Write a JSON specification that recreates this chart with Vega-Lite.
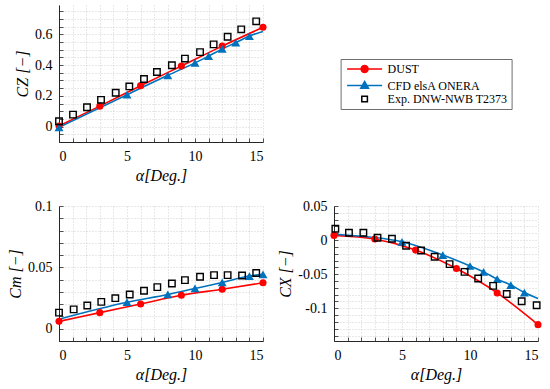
{
  "$schema": "https://vega.github.io/schema/vega-lite/v6.json",
  "padding": {"left": 7, "top": 5, "right": 5, "bottom": 5},
  "background": "white",
  "datasets": {
    "curves": [
      {"coef": "CZ", "series": "DUST", "alpha": 0, "value": 0.004},
      {"coef": "CZ", "series": "DUST", "alpha": 3, "value": 0.133},
      {"coef": "CZ", "series": "DUST", "alpha": 6, "value": 0.266},
      {"coef": "CZ", "series": "DUST", "alpha": 9, "value": 0.394},
      {"coef": "CZ", "series": "DUST", "alpha": 12, "value": 0.523},
      {"coef": "CZ", "series": "DUST", "alpha": 15, "value": 0.645},
      {"coef": "CZ", "series": "CFD elsA ONERA", "alpha": 0, "value": -0.005},
      {"coef": "CZ", "series": "CFD elsA ONERA", "alpha": 5, "value": 0.207},
      {"coef": "CZ", "series": "CFD elsA ONERA", "alpha": 8, "value": 0.333},
      {"coef": "CZ", "series": "CFD elsA ONERA", "alpha": 10, "value": 0.414},
      {"coef": "CZ", "series": "CFD elsA ONERA", "alpha": 11, "value": 0.458},
      {"coef": "CZ", "series": "CFD elsA ONERA", "alpha": 12, "value": 0.505},
      {"coef": "CZ", "series": "CFD elsA ONERA", "alpha": 13, "value": 0.545},
      {"coef": "CZ", "series": "CFD elsA ONERA", "alpha": 14, "value": 0.588},
      {"coef": "CZ", "series": "CFD elsA ONERA", "alpha": 15, "value": 0.618},
      {"coef": "Cm", "series": "DUST", "alpha": 0, "value": 0.006},
      {"coef": "Cm", "series": "DUST", "alpha": 3, "value": 0.0131},
      {"coef": "Cm", "series": "DUST", "alpha": 6, "value": 0.0202},
      {"coef": "Cm", "series": "DUST", "alpha": 9, "value": 0.0273},
      {"coef": "Cm", "series": "DUST", "alpha": 12, "value": 0.0322},
      {"coef": "Cm", "series": "DUST", "alpha": 15, "value": 0.0374},
      {"coef": "Cm", "series": "CFD elsA ONERA", "alpha": 0, "value": 0.0078},
      {"coef": "Cm", "series": "CFD elsA ONERA", "alpha": 5, "value": 0.0216},
      {"coef": "Cm", "series": "CFD elsA ONERA", "alpha": 8, "value": 0.0279},
      {"coef": "Cm", "series": "CFD elsA ONERA", "alpha": 10, "value": 0.0328},
      {"coef": "Cm", "series": "CFD elsA ONERA", "alpha": 12, "value": 0.0377},
      {"coef": "Cm", "series": "CFD elsA ONERA", "alpha": 14, "value": 0.0429},
      {"coef": "Cm", "series": "CFD elsA ONERA", "alpha": 15, "value": 0.0443},
      {"coef": "CX", "series": "DUST", "alpha": 0, "value": 0.0069},
      {"coef": "CX", "series": "DUST", "alpha": 3, "value": 0.0015},
      {"coef": "CX", "series": "DUST", "alpha": 6, "value": -0.0147},
      {"coef": "CX", "series": "DUST", "alpha": 9, "value": -0.0417},
      {"coef": "CX", "series": "DUST", "alpha": 12, "value": -0.0775},
      {"coef": "CX", "series": "DUST", "alpha": 15, "value": -0.124},
      {"coef": "CX", "series": "CFD elsA ONERA", "alpha": 0, "value": 0.0085},
      {"coef": "CX", "series": "CFD elsA ONERA", "alpha": 5, "value": -0.0025},
      {"coef": "CX", "series": "CFD elsA ONERA", "alpha": 8, "value": -0.022},
      {"coef": "CX", "series": "CFD elsA ONERA", "alpha": 10, "value": -0.038},
      {"coef": "CX", "series": "CFD elsA ONERA", "alpha": 11, "value": -0.0466},
      {"coef": "CX", "series": "CFD elsA ONERA", "alpha": 12, "value": -0.0574},
      {"coef": "CX", "series": "CFD elsA ONERA", "alpha": 13, "value": -0.066},
      {"coef": "CX", "series": "CFD elsA ONERA", "alpha": 14, "value": -0.077},
      {"coef": "CX", "series": "CFD elsA ONERA", "alpha": 15, "value": -0.0858}
    ],
    "points": [
      {"coef": "CZ", "series": "DUST", "alpha": 0, "value": 0.004},
      {"coef": "CZ", "series": "DUST", "alpha": 3, "value": 0.133},
      {"coef": "CZ", "series": "DUST", "alpha": 6, "value": 0.266},
      {"coef": "CZ", "series": "DUST", "alpha": 9, "value": 0.394},
      {"coef": "CZ", "series": "DUST", "alpha": 12, "value": 0.523},
      {"coef": "CZ", "series": "DUST", "alpha": 15, "value": 0.645},
      {"coef": "CZ", "series": "CFD elsA ONERA", "alpha": 0, "value": -0.005},
      {"coef": "CZ", "series": "CFD elsA ONERA", "alpha": 5, "value": 0.207},
      {"coef": "CZ", "series": "CFD elsA ONERA", "alpha": 8, "value": 0.333},
      {"coef": "CZ", "series": "CFD elsA ONERA", "alpha": 10, "value": 0.414},
      {"coef": "CZ", "series": "CFD elsA ONERA", "alpha": 11, "value": 0.458},
      {"coef": "CZ", "series": "CFD elsA ONERA", "alpha": 12, "value": 0.505},
      {"coef": "CZ", "series": "CFD elsA ONERA", "alpha": 13, "value": 0.545},
      {"coef": "CZ", "series": "CFD elsA ONERA", "alpha": 14, "value": 0.588},
      {"coef": "CZ", "series": "Exp. DNW-NWB T2373", "alpha": 0, "value": 0.035},
      {"coef": "CZ", "series": "Exp. DNW-NWB T2373", "alpha": 1.03, "value": 0.078},
      {"coef": "CZ", "series": "Exp. DNW-NWB T2373", "alpha": 2.06, "value": 0.126},
      {"coef": "CZ", "series": "Exp. DNW-NWB T2373", "alpha": 3.09, "value": 0.174},
      {"coef": "CZ", "series": "Exp. DNW-NWB T2373", "alpha": 4.17, "value": 0.22},
      {"coef": "CZ", "series": "Exp. DNW-NWB T2373", "alpha": 5.17, "value": 0.261},
      {"coef": "CZ", "series": "Exp. DNW-NWB T2373", "alpha": 6.25, "value": 0.309},
      {"coef": "CZ", "series": "Exp. DNW-NWB T2373", "alpha": 7.2, "value": 0.355},
      {"coef": "CZ", "series": "Exp. DNW-NWB T2373", "alpha": 8.3, "value": 0.399},
      {"coef": "CZ", "series": "Exp. DNW-NWB T2373", "alpha": 9.26, "value": 0.442},
      {"coef": "CZ", "series": "Exp. DNW-NWB T2373", "alpha": 10.37, "value": 0.484},
      {"coef": "CZ", "series": "Exp. DNW-NWB T2373", "alpha": 11.37, "value": 0.534},
      {"coef": "CZ", "series": "Exp. DNW-NWB T2373", "alpha": 12.4, "value": 0.584},
      {"coef": "CZ", "series": "Exp. DNW-NWB T2373", "alpha": 13.4, "value": 0.632},
      {"coef": "CZ", "series": "Exp. DNW-NWB T2373", "alpha": 14.5, "value": 0.684},
      {"coef": "Cm", "series": "DUST", "alpha": 0, "value": 0.006},
      {"coef": "Cm", "series": "DUST", "alpha": 3, "value": 0.0131},
      {"coef": "Cm", "series": "DUST", "alpha": 6, "value": 0.0202},
      {"coef": "Cm", "series": "DUST", "alpha": 9, "value": 0.0273},
      {"coef": "Cm", "series": "DUST", "alpha": 12, "value": 0.0322},
      {"coef": "Cm", "series": "DUST", "alpha": 15, "value": 0.0374},
      {"coef": "Cm", "series": "CFD elsA ONERA", "alpha": 5, "value": 0.0216},
      {"coef": "Cm", "series": "CFD elsA ONERA", "alpha": 8, "value": 0.0279},
      {"coef": "Cm", "series": "CFD elsA ONERA", "alpha": 10, "value": 0.0328},
      {"coef": "Cm", "series": "CFD elsA ONERA", "alpha": 12, "value": 0.0377},
      {"coef": "Cm", "series": "CFD elsA ONERA", "alpha": 14, "value": 0.0429},
      {"coef": "Cm", "series": "CFD elsA ONERA", "alpha": 15, "value": 0.0443},
      {"coef": "Cm", "series": "Exp. DNW-NWB T2373", "alpha": 0, "value": 0.0131},
      {"coef": "Cm", "series": "Exp. DNW-NWB T2373", "alpha": 1.08, "value": 0.0158},
      {"coef": "Cm", "series": "Exp. DNW-NWB T2373", "alpha": 2.08, "value": 0.0189},
      {"coef": "Cm", "series": "Exp. DNW-NWB T2373", "alpha": 3.11, "value": 0.0219},
      {"coef": "Cm", "series": "Exp. DNW-NWB T2373", "alpha": 4.14, "value": 0.0249},
      {"coef": "Cm", "series": "Exp. DNW-NWB T2373", "alpha": 5.2, "value": 0.0279},
      {"coef": "Cm", "series": "Exp. DNW-NWB T2373", "alpha": 6.25, "value": 0.0309},
      {"coef": "Cm", "series": "Exp. DNW-NWB T2373", "alpha": 7.23, "value": 0.0339},
      {"coef": "Cm", "series": "Exp. DNW-NWB T2373", "alpha": 8.3, "value": 0.0369},
      {"coef": "Cm", "series": "Exp. DNW-NWB T2373", "alpha": 9.26, "value": 0.0396},
      {"coef": "Cm", "series": "Exp. DNW-NWB T2373", "alpha": 10.37, "value": 0.0423},
      {"coef": "Cm", "series": "Exp. DNW-NWB T2373", "alpha": 11.4, "value": 0.0437},
      {"coef": "Cm", "series": "Exp. DNW-NWB T2373", "alpha": 12.4, "value": 0.0437},
      {"coef": "Cm", "series": "Exp. DNW-NWB T2373", "alpha": 13.46, "value": 0.0434},
      {"coef": "Cm", "series": "Exp. DNW-NWB T2373", "alpha": 14.5, "value": 0.0454},
      {"coef": "CX", "series": "DUST", "alpha": 0, "value": 0.0069},
      {"coef": "CX", "series": "DUST", "alpha": 3, "value": 0.0015},
      {"coef": "CX", "series": "DUST", "alpha": 6, "value": -0.0147},
      {"coef": "CX", "series": "DUST", "alpha": 9, "value": -0.0417},
      {"coef": "CX", "series": "DUST", "alpha": 12, "value": -0.0775},
      {"coef": "CX", "series": "DUST", "alpha": 15, "value": -0.124},
      {"coef": "CX", "series": "CFD elsA ONERA", "alpha": 5, "value": -0.0025},
      {"coef": "CX", "series": "CFD elsA ONERA", "alpha": 8, "value": -0.022},
      {"coef": "CX", "series": "CFD elsA ONERA", "alpha": 10, "value": -0.038},
      {"coef": "CX", "series": "CFD elsA ONERA", "alpha": 11, "value": -0.0466},
      {"coef": "CX", "series": "CFD elsA ONERA", "alpha": 12, "value": -0.0574},
      {"coef": "CX", "series": "CFD elsA ONERA", "alpha": 13, "value": -0.066},
      {"coef": "CX", "series": "CFD elsA ONERA", "alpha": 14, "value": -0.077},
      {"coef": "CX", "series": "Exp. DNW-NWB T2373", "alpha": 0.1, "value": 0.0167},
      {"coef": "CX", "series": "Exp. DNW-NWB T2373", "alpha": 1.1, "value": 0.0108},
      {"coef": "CX", "series": "Exp. DNW-NWB T2373", "alpha": 2.16, "value": 0.0108},
      {"coef": "CX", "series": "Exp. DNW-NWB T2373", "alpha": 3.2, "value": 0.0034},
      {"coef": "CX", "series": "Exp. DNW-NWB T2373", "alpha": 4.26, "value": 0.002},
      {"coef": "CX", "series": "Exp. DNW-NWB T2373", "alpha": 5.3, "value": -0.0083},
      {"coef": "CX", "series": "Exp. DNW-NWB T2373", "alpha": 6.4, "value": -0.0152},
      {"coef": "CX", "series": "Exp. DNW-NWB T2373", "alpha": 7.4, "value": -0.0245},
      {"coef": "CX", "series": "Exp. DNW-NWB T2373", "alpha": 8.5, "value": -0.0353},
      {"coef": "CX", "series": "Exp. DNW-NWB T2373", "alpha": 9.6, "value": -0.0466},
      {"coef": "CX", "series": "Exp. DNW-NWB T2373", "alpha": 10.6, "value": -0.0564},
      {"coef": "CX", "series": "Exp. DNW-NWB T2373", "alpha": 11.7, "value": -0.0672},
      {"coef": "CX", "series": "Exp. DNW-NWB T2373", "alpha": 12.7, "value": -0.079},
      {"coef": "CX", "series": "Exp. DNW-NWB T2373", "alpha": 13.8, "value": -0.0897},
      {"coef": "CX", "series": "Exp. DNW-NWB T2373", "alpha": 14.9, "value": -0.0956}
    ],
    "legendrows": [
      {"series": "DUST"},
      {"series": "CFD elsA ONERA"},
      {"series": "Exp. DNW-NWB T2373"}
    ]
  },
  "columns": 2,
  "spacing": {"row": 64, "column": 71},
  "bounds": "flush",
  "concat": [
    {
      "width": 204, "height": 137,
      "encoding": {
        "x": {"field": "alpha", "type": "quantitative", "scale": {"domain": [0, 15], "nice": false, "zero": false},
          "axis": {"title": "α[Deg.]", "values": [0,1,2,3,4,5,6,7,8,9,10,11,12,13,14,15], "labelExpr": "datum.value % 5 == 0 ? datum.label : ''"}},
        "y": {"field": "value", "type": "quantitative", "scale": {"domain": [-0.1, 0.79], "nice": false, "zero": false},
          "axis": {"title": "CZ [−]", "values": [-0.1,-0.05,0,0.05,0.1,0.15,0.2,0.25,0.3,0.35,0.4,0.45,0.5,0.55,0.6,0.65,0.7,0.75],
            "labelExpr": "abs(datum.value/0.2 - round(datum.value/0.2)) < 1e-6 ? replace(format(datum.value, '~g'), '−', '-') : ''"}}
      },
      "layer": [
        {"data": {"name": "curves"}, "transform": [{"filter": "datum.coef == 'CZ'"}],
          "mark": {"type": "line", "strokeWidth": 1.6, "interpolate": "monotone"},
          "encoding": {"color": {"field": "series", "type": "nominal", "scale": {"domain": ["DUST", "CFD elsA ONERA"], "range": ["#ff0000", "#0072bd"]}, "legend": null}}},
        {"data": {"name": "points"}, "transform": [{"filter": "datum.coef == 'CZ' && datum.series == 'DUST'"}],
          "mark": {"type": "point", "shape": "circle", "filled": true, "color": "#ff0000", "size": 50, "opacity": 1}},
        {"data": {"name": "points"}, "transform": [{"filter": "datum.coef == 'CZ' && datum.series == 'CFD elsA ONERA'"}],
          "mark": {"type": "point", "shape": "triangle-up", "filled": true, "color": "#0072bd", "size": 80, "opacity": 1}},
        {"data": {"name": "points"}, "transform": [{"filter": "datum.coef == 'CZ' && datum.series == 'Exp. DNW-NWB T2373'"}],
          "mark": {"type": "point", "shape": "square", "filled": false, "color": "#000000", "strokeWidth": 1.4, "size": 42, "opacity": 1}}
      ]
    },
    {
      "width": 204, "height": 137,
      "data": {"name": "legendrows"},
      "mark": {"type": "point", "opacity": 0, "filled": true},
      "encoding": {
        "shape": {"field": "series", "type": "nominal",
          "scale": {"domain": ["DUST", "CFD elsA ONERA", "Exp. DNW-NWB T2373"],
            "range": [
              "M-1,0H9M5,0L4.866,0.5L4.5,0.866L4,1L3.5,0.866L3.134,0.5L3,0L3.134,-0.5L3.5,-0.866L4,-1L4.5,-0.866L4.866,-0.5Z",
              "M-1,0H9M4,-1.15L5.1,0.75L2.9,0.75Z",
              "M3.2,-0.8H4.8V0.8H3.2Z"
            ]},
          "legend": {"title": null, "orient": "none", "legendX": 281.6, "legendY": 54, "symbolSize": 49, "symbolStrokeWidth": 1.5, "labelOffset": 31, "labelFont": "Liberation Serif", "labelFontSize": 12, "labelColor": "#000000", "padding": 4, "rowPadding": 1.5, "strokeColor": "#6e6e6e", "fillColor": "#ffffff", "cornerRadius": 0,
            "encode": {"symbols": {"update": {"opacity": {"value": 1}, "fillOpacity": {"value": 1}, "strokeOpacity": {"value": 1}, "fill": {"scale": "fill", "field": "value"}, "stroke": {"scale": "stroke", "field": "value"}}}}}},
        "fill": {"field": "series", "type": "nominal",
          "scale": {"domain": ["DUST", "CFD elsA ONERA", "Exp. DNW-NWB T2373"], "range": ["#ff0000", "#0072bd", "#ffffff"]},
          "legend": {"title": null, "orient": "none", "legendX": 281.6, "legendY": 54, "symbolSize": 49, "symbolStrokeWidth": 1.5, "labelOffset": 31, "labelFont": "Liberation Serif", "labelFontSize": 12, "labelColor": "#000000", "padding": 4, "rowPadding": 1.5, "strokeColor": "#6e6e6e", "fillColor": "#ffffff", "cornerRadius": 0,
            "encode": {"symbols": {"update": {"opacity": {"value": 1}, "fillOpacity": {"value": 1}, "strokeOpacity": {"value": 1}, "fill": {"scale": "fill", "field": "value"}, "stroke": {"scale": "stroke", "field": "value"}}}}}},
        "stroke": {"field": "series", "type": "nominal",
          "scale": {"domain": ["DUST", "CFD elsA ONERA", "Exp. DNW-NWB T2373"], "range": ["#ff0000", "#0072bd", "#000000"]},
          "legend": {"title": null, "orient": "none", "legendX": 281.6, "legendY": 54, "symbolSize": 49, "symbolStrokeWidth": 1.5, "labelOffset": 31, "labelFont": "Liberation Serif", "labelFontSize": 12, "labelColor": "#000000", "padding": 4, "rowPadding": 1.5, "strokeColor": "#6e6e6e", "fillColor": "#ffffff", "cornerRadius": 0,
            "encode": {"symbols": {"update": {"opacity": {"value": 1}, "fillOpacity": {"value": 1}, "strokeOpacity": {"value": 1}, "fill": {"scale": "fill", "field": "value"}, "stroke": {"scale": "stroke", "field": "value"}}}}}}
      }
    },
    {
      "width": 204, "height": 135,
      "encoding": {
        "x": {"field": "alpha", "type": "quantitative", "scale": {"domain": [0, 15], "nice": false, "zero": false},
          "axis": {"title": "α[Deg.]", "values": [0,1,2,3,4,5,6,7,8,9,10,11,12,13,14,15], "labelExpr": "datum.value % 5 == 0 ? datum.label : ''"}},
        "y": {"field": "value", "type": "quantitative", "scale": {"domain": [-0.01, 0.1], "nice": false, "zero": false},
          "axis": {"title": "Cm [−]", "values": [-0.01,0,0.01,0.02,0.03,0.04,0.05,0.06,0.07,0.08,0.09,0.1],
            "labelExpr": "abs(datum.value/0.05 - round(datum.value/0.05)) < 1e-6 ? replace(format(datum.value, '~g'), '−', '-') : ''"}}
      },
      "layer": [
        {"data": {"name": "curves"}, "transform": [{"filter": "datum.coef == 'Cm'"}],
          "mark": {"type": "line", "strokeWidth": 1.6, "interpolate": "monotone"},
          "encoding": {"color": {"field": "series", "type": "nominal", "scale": {"domain": ["DUST", "CFD elsA ONERA"], "range": ["#ff0000", "#0072bd"]}, "legend": null}}},
        {"data": {"name": "points"}, "transform": [{"filter": "datum.coef == 'Cm' && datum.series == 'DUST'"}],
          "mark": {"type": "point", "shape": "circle", "filled": true, "color": "#ff0000", "size": 50, "opacity": 1}},
        {"data": {"name": "points"}, "transform": [{"filter": "datum.coef == 'Cm' && datum.series == 'CFD elsA ONERA'"}],
          "mark": {"type": "point", "shape": "triangle-up", "filled": true, "color": "#0072bd", "size": 80, "opacity": 1}},
        {"data": {"name": "points"}, "transform": [{"filter": "datum.coef == 'Cm' && datum.series == 'Exp. DNW-NWB T2373'"}],
          "mark": {"type": "point", "shape": "square", "filled": false, "color": "#000000", "strokeWidth": 1.4, "size": 42, "opacity": 1}}
      ]
    },
    {
      "width": 204, "height": 135,
      "encoding": {
        "x": {"field": "alpha", "type": "quantitative", "scale": {"domain": [0, 15], "nice": false, "zero": false},
          "axis": {"title": "α[Deg.]", "values": [0,1,2,3,4,5,6,7,8,9,10,11,12,13,14,15], "labelExpr": "datum.value % 5 == 0 ? datum.label : ''"}},
        "y": {"field": "value", "type": "quantitative", "scale": {"domain": [-0.148, 0.05], "nice": false, "zero": false},
          "axis": {"title": "CX [−]", "values": [-0.14,-0.13,-0.12,-0.11,-0.1,-0.09,-0.08,-0.07,-0.06,-0.05,-0.04,-0.03,-0.02,-0.01,0,0.01,0.02,0.03,0.04,0.05],
            "labelExpr": "abs(datum.value/0.05 - round(datum.value/0.05)) < 1e-6 ? replace(format(datum.value, '~g'), '−', '-') : ''"}}
      },
      "layer": [
        {"data": {"name": "curves"}, "transform": [{"filter": "datum.coef == 'CX'"}],
          "mark": {"type": "line", "strokeWidth": 1.6, "interpolate": "monotone"},
          "encoding": {"color": {"field": "series", "type": "nominal", "scale": {"domain": ["DUST", "CFD elsA ONERA"], "range": ["#ff0000", "#0072bd"]}, "legend": null}}},
        {"data": {"name": "points"}, "transform": [{"filter": "datum.coef == 'CX' && datum.series == 'DUST'"}],
          "mark": {"type": "point", "shape": "circle", "filled": true, "color": "#ff0000", "size": 50, "opacity": 1}},
        {"data": {"name": "points"}, "transform": [{"filter": "datum.coef == 'CX' && datum.series == 'CFD elsA ONERA'"}],
          "mark": {"type": "point", "shape": "triangle-up", "filled": true, "color": "#0072bd", "size": 80, "opacity": 1}},
        {"data": {"name": "points"}, "transform": [{"filter": "datum.coef == 'CX' && datum.series == 'Exp. DNW-NWB T2373'"}],
          "mark": {"type": "point", "shape": "square", "filled": false, "color": "#000000", "strokeWidth": 1.4, "size": 42, "opacity": 1}}
      ]
    }
  ],
  "config": {
    "font": "Liberation Serif",
    "view": {"stroke": null},
    "axis": {
      "domainColor": "#262626", "domainWidth": 1,
      "tickColor": "#262626", "tickSize": -4, "tickWidth": 0.8,
      "labelFont": "Liberation Serif", "labelFontSize": 14, "labelColor": "#000000", "labelPadding": 11,
      "titleFont": "Liberation Serif", "titleFontSize": 16, "titleFontWeight": "normal", "titleFontStyle": "italic", "titleColor": "#000000",
      "grid": true, "gridColor": "#c4c4c4", "gridDash": [1, 2], "gridWidth": 0.8
    }
  }
}
